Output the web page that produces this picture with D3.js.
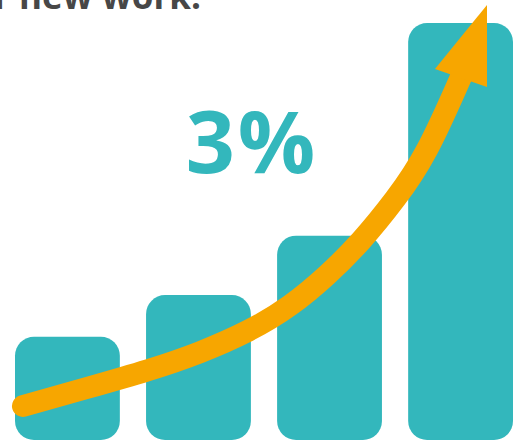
<!DOCTYPE html>
<html>
<head>
<meta charset="utf-8">
<script src="https://cdn.jsdelivr.net/npm/d3@7"></script>
<style>
  body { margin: 0; background: #fff; }
  svg { display: block; }
</style>
</head>
<body>
<div class="chart"></div>
<script>
// bar data
var categories = ["A", "B", "C", "D"];
var values = [0.99, 1.39, 1.96, 4];

// growth arrow, in the same units as the bars (x = bar position, y = value)
var arrowX = [0.064, 0.578, 1.084, 1.486, 1.888, 2.209, 2.514, 2.779, 3.060, 3.301, 3.582];
var arrowY = [0.326, 0.499, 0.671, 0.835, 1.046, 1.276, 1.583, 1.899, 2.312, 2.724, 3.482];
var headX = [3.373, 3.791, 3.791];
var headY = [3.559, 4.173, 3.386];

var titleText = "r new work.";
var bigLabel = "3%";

var svgWidth = 515;
var svgHeight = 441;

var teal = "#33b7bc";
var orange = "#f7a600";

var svg = d3.select(".chart")
  .append("svg")
  .attr("width", svgWidth)
  .attr("height", svgHeight);

var xBand = d3.scaleBand()
  .domain(categories)
  .range([15, 513])
  .paddingInner(0.2)
  .paddingOuter(0);

var xPos = d3.scaleLinear().domain([0, 4]).range([15, 513]);
var yScale = d3.scaleLinear().domain([0, 4]).range([440, 23]);

// bars
svg.append("g")
  .selectAll("rect")
  .data(values)
  .enter()
  .append("rect")
  .attr("x", function(d, i) { return xBand(categories[i]); })
  .attr("y", function(d) { return yScale(d); })
  .attr("width", xBand.bandwidth())
  .attr("height", function(d) { return yScale(0) - yScale(d); })
  .attr("rx", 19)
  .attr("ry", 19)
  .attr("fill", teal);

// title, cut off by the top edge
svg.append("text")
  .attr("x", 201)
  .attr("y", 9)
  .attr("text-anchor", "end")
  .attr("font-family", "'Open Sans', sans-serif")
  .attr("font-weight", 700)
  .attr("font-size", 35)
  .attr("fill", "#474747")
  .text(titleText);

// big percent label
svg.append("text")
  .attr("x", 252)
  .attr("y", 173)
  .attr("text-anchor", "middle")
  .attr("font-family", "'Open Sans', sans-serif")
  .attr("font-weight", 700)
  .attr("font-size", 86)
  .attr("letter-spacing", 3)
  .attr("fill", teal)
  .text(bigLabel);

// arrow shaft
var arrowPts = arrowX.map(function(x, i) { return [x, arrowY[i]]; });
var line = d3.line()
  .x(function(d) { return xPos(d[0]); })
  .y(function(d) { return yScale(d[1]); })
  .curve(d3.curveBasis);

svg.append("path")
  .attr("d", line(arrowPts))
  .attr("fill", "none")
  .attr("stroke", orange)
  .attr("stroke-width", 22)
  .attr("stroke-linecap", "round");

// arrow head
var headPts = headX.map(function(x, i) { return [xPos(x), yScale(headY[i])]; });
svg.append("polygon")
  .attr("points", headPts.map(function(p) { return p.join(","); }).join(" "))
  .attr("fill", orange);
</script>
</body>
</html>
